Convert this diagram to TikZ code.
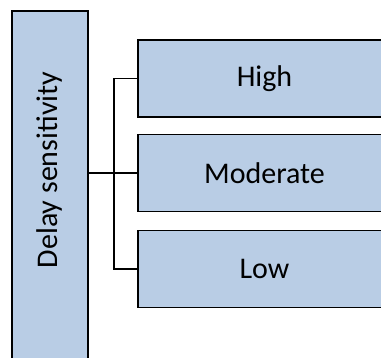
\documentclass[tikz,border=0pt]{standalone}
\usepackage{fontspec}
\setmainfont{Carlito}
\usetikzlibrary{positioning}
\definecolor{boxblue}{HTML}{B9CDE5}

\begin{document}
\begin{tikzpicture}[x=1pt,y=1pt,
    catbox/.style={draw, line width=1.5pt, fill=boxblue, rectangle, minimum width=253pt, minimum height=77pt, inner sep=0pt, font=\fontsize{30}{36}\selectfont},
    link/.style={line width=1.5pt}]
    \useasboundingbox (0,0) rectangle (381,358);
    \clip (0,0) rectangle (381,358);

    % left category box
    \node[draw, line width=1.5pt, fill=boxblue, rectangle, minimum width=76pt, minimum height=380pt, inner sep=0pt] (delay) at (50,157) {};
    \node[rotate=90, font=\fontsize{30}{36}\selectfont] (delaytext) at (50,188) {Delay sensitivity};

    % levels
    \node[catbox] (high) at (264.5,279.5) {High};
    \node[catbox] (moderate) at (264.5,185) {Moderate};
    \node[catbox] (low) at (264.5,89) {Low};

    \coordinate (split) at (114,185);
    \draw[link] (delay.east |- moderate.west) -- (moderate.west);
    \draw[link] (high.west) -| (split) |- (low.west);
\end{tikzpicture}
\end{document}
